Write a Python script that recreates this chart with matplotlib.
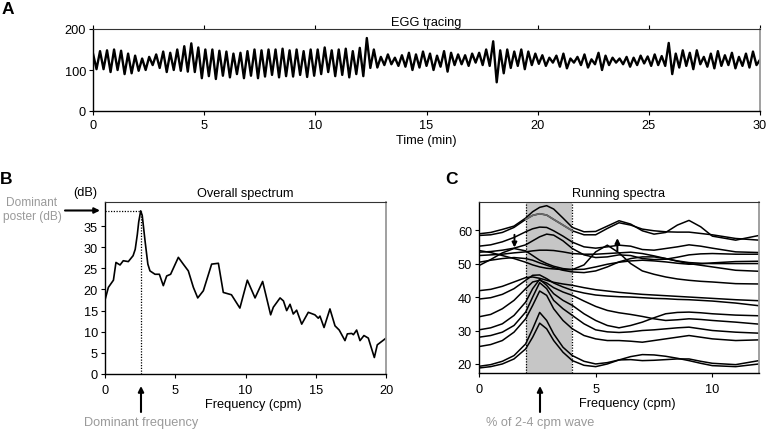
import numpy as np
import matplotlib
matplotlib.use("Agg")
import matplotlib.pyplot as plt

plt.rcParams['font.family'] = ['Liberation Sans', 'DejaVu Sans']

# ---------------- Panel A data: EGG tracing (alternating peak / trough values) ----------
egg_peaks = [140, 146, 148, 150, 147, 140, 135, 128, 132, 138, 145, 142, 150, 158, 165,
             155, 150, 150, 147, 145, 140, 142, 146, 150, 148, 150, 150, 152, 148, 150, 146, 150,
             150, 155, 148, 150, 152, 146, 154, 178,
             150, 132, 138, 130, 136, 142, 138, 145, 140, 135, 146, 142, 138, 136, 140, 142,
             150, 170, 148, 150, 145, 150, 145,
             140, 136, 130, 135, 140, 128, 132, 138, 126, 142, 135, 130, 128, 132, 130, 135, 133, 138, 134,
             166, 140, 148, 142, 148, 132, 140, 146, 136, 142, 132, 140, 145]
egg_troughs = [102, 102, 95, 100, 90, 92, 98, 100, 112, 105, 95, 100, 98, 96, 95,
               80, 85, 78, 86, 82, 90, 80, 86, 80, 84, 88, 82, 85, 84, 88, 83, 86,
               90, 95, 85, 88, 82, 90, 85, 105,
               106, 112, 114, 110, 108, 100, 106, 110, 100, 108, 96, 112, 114, 110, 118, 112,
               110, 70, 92, 105, 110, 102, 112,
               115, 110, 118, 108, 104, 118, 112, 106, 114, 100, 112, 118, 114, 108, 112, 116, 110, 112, 110,
               90, 106, 110, 102, 114, 108, 104, 110, 112, 104, 110, 106, 112]
egg_end_value = 125
time_xticks = [0, 5, 10, 15, 20, 25, 30]
egg_yticks = [0, 100, 200]

# ---------------- Panel B data: overall spectrum ----------------
overall_freq = [0, 0.24, 0.6, 0.78, 1.07, 1.3, 1.66, 2.0, 2.15, 2.3, 2.4, 2.54, 2.65, 2.85, 3.05,
                3.2, 3.56, 3.87, 4.15, 4.39, 4.67, 5.22, 5.57, 5.93, 6.29, 6.6, 7.0, 7.59, 8.07,
                8.42, 9.0, 9.6, 10.13, 10.68, 11.22, 11.79, 11.98, 12.46, 12.7, 12.93, 13.17,
                13.4, 13.64, 14.0, 14.47, 14.94, 15.18, 15.3, 15.59, 16.01, 16.37, 16.67, 17.08,
                17.25, 17.56, 17.68, 17.91, 18.15, 18.43, 18.74, 19.17, 19.38, 19.93, 20.0]
overall_db = [17.5, 20.5, 22.2, 26.4, 25.8, 26.8, 26.6, 28.0, 29.5, 33.0, 36.0, 38.6, 37.5, 31.5, 26.0,
              24.4, 23.6, 23.6, 20.9, 23.2, 23.6, 27.6, 26.0, 24.4, 20.5, 18.0, 19.7, 26.0, 26.2,
              19.3, 18.75, 15.6, 22.2, 18.0, 21.9, 14.0, 15.8, 18.0, 17.3, 15.0, 16.5,
              14.2, 15.1, 11.8, 14.6, 14.0, 13.2, 13.7, 11.0, 15.4, 11.4, 10.4, 7.9,
              9.5, 9.6, 9.3, 10.4, 7.9, 9.1, 8.5, 3.9, 6.9, 8.3, 8.5]
dominant_freq = 2.54
dominant_power = 38.6
overall_xticks = [0, 5, 10, 15, 20]
overall_yticks = [0, 5, 10, 15, 20, 25, 30, 35]

# ---------------- Panel C data: running spectra ----------------
running_freq = [0, 0.5, 1, 1.5, 2, 2.3, 2.6, 2.9, 3.2, 3.6, 4, 4.5, 5, 5.5, 6, 6.5, 7, 7.5,
                8, 8.5, 9, 9.5, 10, 11, 12]
lower_spectra = [
    [18.8, 19.2, 20.0, 21.5, 24.5, 28.0, 32.2, 30.5, 27.0, 23.5, 21.0, 19.6, 19.2, 20.0, 21.2, 22.2, 22.8, 22.7, 22.3, 21.7, 21.0, 20.2, 19.5, 19.2, 20.0],
    [19.3, 19.8, 20.8, 22.5, 26.0, 30.5, 35.4, 33.0, 29.0, 25.0, 22.5, 20.8, 20.0, 20.4, 21.2, 21.3, 21.0, 21.1, 21.3, 21.5, 21.5, 20.8, 20.2, 19.8, 21.0],
    [25.2, 25.8, 27.0, 29.5, 33.5, 37.5, 41.8, 40.5, 36.5, 33.0, 30.5, 28.5, 27.5, 27.0, 27.0, 26.8, 26.5, 27.0, 27.5, 28.0, 28.5, 28.0, 27.5, 27.0, 27.2],
    [28.0, 28.5, 29.5, 31.5, 35.5, 40.0, 44.3, 42.5, 39.0, 36.5, 34.5, 32.0, 30.2, 29.6, 29.4, 29.6, 30.0, 30.2, 30.5, 30.8, 31.0, 30.5, 30.0, 29.5, 29.2],
    [30.2, 30.8, 32.0, 34.5, 38.5, 42.5, 45.3, 43.5, 41.0, 39.0, 37.5, 35.0, 33.0, 31.5, 30.8, 31.5, 32.5, 33.8, 35.0, 35.4, 35.5, 35.3, 35.0, 34.6, 34.4],
    [34.1, 34.8, 36.5, 39.0, 42.5, 44.5, 45.0, 44.2, 42.8, 41.5, 40.5, 38.8, 37.2, 36.0, 35.3, 34.8, 34.2, 33.5, 33.0, 33.2, 33.5, 33.3, 33.0, 32.5, 31.9],
    [39.4, 39.8, 40.8, 42.5, 45.0, 46.5, 46.6, 45.5, 44.2, 43.0, 42.0, 41.2, 40.6, 40.3, 40.1, 40.0, 39.8, 39.6, 39.5, 39.3, 39.2, 39.0, 38.8, 38.2, 37.4],
    [41.9, 42.3, 43.2, 44.5, 45.8, 46.0, 45.6, 45.0, 44.4, 43.9, 43.5, 42.8, 42.2, 41.8, 41.4, 41.1, 40.8, 40.6, 40.4, 40.2, 40.0, 39.8, 39.6, 39.2, 38.9],
]
upper_spectra = [
    [58.9, 59.3, 60.2, 61.2, 63.6, 65.5, 66.8, 67.3, 66.3, 63.6, 60.8, 59.5, 59.6, 61.2, 62.8, 61.8, 59.8, 58.8, 59.3, 61.5, 62.9, 61.0, 58.2, 57.0, 58.4],
    [58.4, 58.6, 59.3, 60.8, 63.2, 64.4, 64.9, 64.5, 63.2, 61.5, 59.8, 58.6, 58.6, 60.5, 62.2, 61.5, 60.3, 59.8, 59.5, 59.4, 59.4, 59.0, 58.6, 57.5, 57.0],
    [55.2, 55.6, 56.5, 57.8, 59.5, 60.4, 60.9, 60.8, 59.8, 58.2, 56.4, 55.0, 54.6, 55.0, 55.5, 55.2, 54.2, 54.0, 54.5, 55.0, 55.6, 55.2, 54.6, 53.5, 53.3],
    [53.4, 53.6, 54.0, 54.6, 55.6, 56.8, 58.0, 58.8, 58.5, 56.8, 54.5, 52.6, 51.8, 52.0, 52.6, 52.4, 51.5, 51.2, 51.3, 51.9, 52.6, 52.9, 53.0, 52.8, 52.8],
    [49.4, 51.2, 53.2, 54.5, 53.8, 52.4, 51.0, 50.0, 49.2, 48.5, 48.2, 48.3, 49.0, 49.8, 50.4, 50.8, 51.0, 50.8, 50.5, 50.1, 49.8, 49.9, 50.2, 50.6, 50.7],
    [53.9, 53.3, 52.4, 51.5, 50.4, 49.6, 49.0, 48.6, 48.4, 48.2, 48.2, 49.6, 53.5, 55.5, 53.2, 50.0, 47.8, 46.8, 46.0, 45.4, 45.0, 44.7, 44.5, 44.0, 43.9],
    [52.4, 52.6, 52.8, 53.2, 53.5, 53.8, 54.0, 54.0, 53.9, 53.5, 53.0, 52.8, 52.8, 53.0, 53.2, 53.4, 53.0, 52.3, 51.5, 50.7, 50.0, 49.5, 49.0, 48.0, 47.7],
    [50.4, 51.0, 51.5, 51.8, 51.5, 51.0, 50.2, 49.5, 48.8, 48.0, 47.5, 47.3, 47.8, 49.0, 50.5, 51.5, 52.0, 52.0, 51.5, 50.8, 50.3, 50.1, 50.0, 50.0, 50.0],
]
gray_index = 1  # the upper spectrum that appears gray inside the 2-4 cpm band
band_low, band_high = 2, 4
running_xticks = [0, 5, 10]
running_yticks = [20, 30, 40, 50, 60]

# ---------------- figure ----------------
W, H = 767, 431
fig = plt.figure(figsize=(W / 100, H / 100), dpi=100)

def fx(x):
    return x / W

def fy(y):
    return 1 - y / H

FS = 9.2

def style_axes(ax, top_ticks=False):
    for s in ['left', 'bottom']:
        ax.spines[s].set_color('black')
        ax.spines[s].set_linewidth(1.0)
    ax.spines['top'].set_color('#333333')
    ax.spines['top'].set_linewidth(0.8)
    ax.spines['right'].set_color('#999999')
    ax.spines['right'].set_linewidth(1.3)
    ax.tick_params(direction='out', length=3, width=0.8, labelsize=FS, pad=2,
                   top=top_ticks, right=False, colors='black')

# Panel A
axA = fig.add_axes([fx(93), fy(112), fx(760 - 93), (112 - 30) / H])
vals = []
for p, t in zip(egg_peaks, egg_troughs):
    vals.extend([p, t])
vals.append(egg_end_value)
tA = np.linspace(0, 30, len(vals))
axA.plot(tA, vals, color='black', lw=1.7, solid_joinstyle='round')
axA.set_xlim(0, 30)
axA.set_ylim(0, 200)
axA.set_xticks(time_xticks)
axA.set_yticks(egg_yticks)
style_axes(axA, top_ticks=True)
axA.tick_params(axis='x', pad=3)
axA.set_title('EGG tracing', fontsize=FS, pad=3)
axA.set_xlabel('Time (min)', fontsize=FS, labelpad=2)

# Panel B
axB = fig.add_axes([fx(105), fy(375), fx(386 - 105), (375 - 203) / H])
axB.plot(overall_freq, overall_db, color='black', lw=1.2)
axB.plot([0, dominant_freq], [dominant_power, dominant_power], color='black', lw=0.9, ls=(0, (1, 1.2)))
axB.plot([dominant_freq, dominant_freq], [0, dominant_power], color='black', lw=0.9, ls=(0, (1, 1.2)))
axB.set_xlim(0, 20)
axB.set_ylim(0, 40.7)
axB.set_xticks(overall_xticks)
axB.set_yticks(overall_yticks)
style_axes(axB)
axB.tick_params(axis='x', pad=4)
axB.set_title('Overall spectrum', fontsize=FS, pad=4)
axB.set_xlabel('Frequency (cpm)', fontsize=FS, labelpad=7)
axB.xaxis.set_label_coords(0.527, -0.14)

# Panel C
axC = fig.add_axes([fx(479), fy(374), fx(759 - 479), (374 - 203) / H])
axC.axvspan(band_low, band_high, color='#c6c6c6', lw=0, zorder=0)
axC.axvline(band_low, color='black', lw=0.9, ls=(0, (1, 1.2)), zorder=1)
axC.axvline(band_high, color='black', lw=0.9, ls=(0, (1, 1.2)), zorder=1)
for row in lower_spectra:
    axC.plot(running_freq, row, color='black', lw=1.1, zorder=2)
for row in upper_spectra:
    axC.plot(running_freq, row, color='black', lw=1.1, zorder=2)
in_band = [i for i, f in enumerate(running_freq) if band_low <= f <= band_high]
axC.plot([running_freq[i] for i in in_band], [upper_spectra[gray_index][i] for i in in_band],
         color='#6a6a6a', lw=1.2, zorder=3)
small_arrow = dict(arrowstyle='-|>', color='black', lw=1.4, mutation_scale=7, shrinkA=0, shrinkB=0)
axC.annotate('', xy=(1.52, 54.8), xytext=(1.52, 58.6), arrowprops=small_arrow)
axC.annotate('', xy=(5.93, 57.6), xytext=(5.93, 53.8), arrowprops=small_arrow)
axC.set_xlim(0, 12)
axC.set_ylim(17.3, 68.4)
axC.set_xticks(running_xticks)
axC.set_yticks(running_yticks)
style_axes(axC)
axC.tick_params(axis='x', pad=4)
axC.set_title('Running spectra', fontsize=FS, pad=4)
axC.set_xlabel('Frequency (cpm)', fontsize=FS)
axC.xaxis.set_label_coords(0.53, -0.14)

# Panel letters
fig.text(fx(2), fy(9), 'A', fontsize=12.5, fontweight='bold', va='center', ha='left')
fig.text(fx(0), fy(179), 'B', fontsize=12.5, fontweight='bold', va='center', ha='left')
fig.text(fx(445), fy(180), 'C', fontsize=12.5, fontweight='bold', va='center', ha='left')

# Annotations
gray = '#9a9a9a'
fig.text(fx(97), fy(193), '(dB)', fontsize=FS, ha='right', va='center')
fig.text(fx(32), fy(210), 'Dominant\nposter (dB)', fontsize=8.6, ha='center', va='center',
         color=gray, linespacing=1.15)
fig.text(fx(141), fy(423), 'Dominant frequency', fontsize=FS, ha='center', va='center', color=gray)
fig.text(fx(540), fy(423), '% of 2-4 cpm wave', fontsize=FS, ha='center', va='center', color=gray)

arrow_kw = dict(arrowstyle='-|>', color='black', lw=1.5, mutation_scale=8, shrinkA=0, shrinkB=0)
fig.add_artist(matplotlib.patches.FancyArrowPatch((fx(65), fy(211.5)), (fx(100), fy(211.5)),
                                                  transform=fig.transFigure, **arrow_kw))
fig.add_artist(matplotlib.patches.FancyArrowPatch((fx(141), fy(413)), (fx(141), fy(387)),
                                                  transform=fig.transFigure, **arrow_kw))
fig.add_artist(matplotlib.patches.FancyArrowPatch((fx(540), fy(413)), (fx(540), fy(387)),
                                                  transform=fig.transFigure, **arrow_kw))

fig.savefig('out.png', dpi=100)
